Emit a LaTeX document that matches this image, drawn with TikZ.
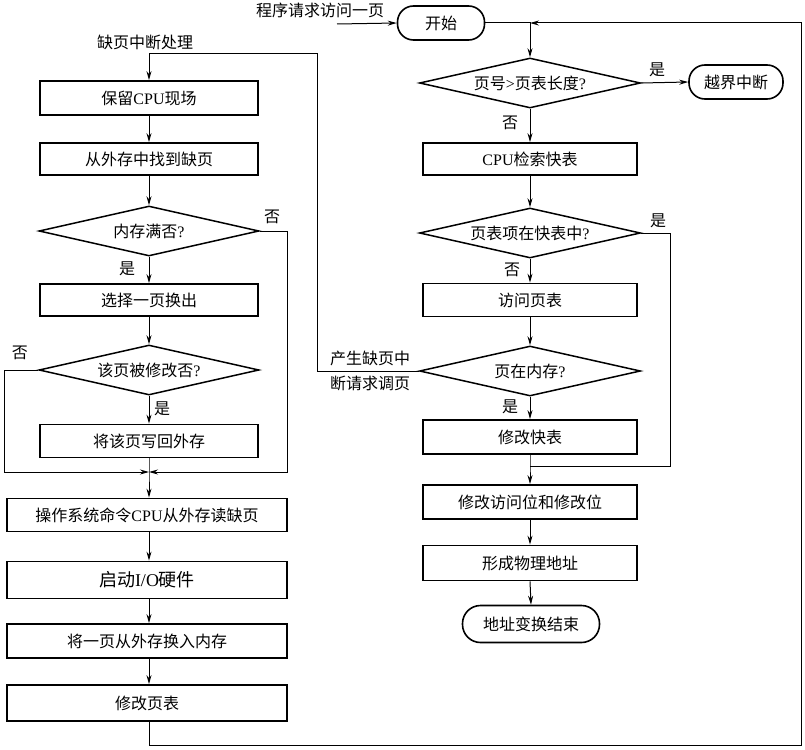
\documentclass[tikz,border=0pt]{standalone}
\usepackage{fontspec}
\setmainfont{Liberation Serif}
\newfontfamily\cjk{Noto Sans CJK SC}
\newfontfamily\latf{Liberation Serif}
\usetikzlibrary{shapes.geometric,arrows.meta}
\tikzset{
  txt/.style={font=\cjk\fontsize{16}{18}\selectfont, inner sep=0pt},
  stepbox/.style={draw, line width=1.8pt, minimum height=33pt, inner sep=0pt, txt},
  rbox/.style={draw, line width=1.6pt, minimum height=34pt, inner sep=0pt, rounded corners=16pt, txt},
  dia/.style={draw, shape=diamond, aspect=4.4, line width=1.5pt, minimum width=221pt, minimum height=50pt, inner sep=0pt, txt},
  conn/.style={line width=1pt},
  arr/.style={line width=1pt, -{Stealth[length=9pt,width=5pt,inset=3pt]}},
}
\begin{document}
\begin{tikzpicture}[x=1pt,y=-1pt]
\useasboundingbox (0,0) rectangle (805,749);
% ---------- right column ----------
\node[txt] (req) at (320,10) {程序请求访问一页};
\coordinate (reqs) at (337,24);
\node[rbox, minimum width=87pt] (start) at (441,23) {开始};
\coordinate (j0) at (530,23);
\node[dia] (d1) at (530,83) {页号{\latf >}页表长度{\latf ?}};
\node[rbox, minimum width=94pt] (out) at (736,82) {越界中断};
\node[txt] (y1) at (657,70) {是};
\node[txt] (n1) at (510,123) {否};
\node[stepbox, minimum width=214pt, minimum height=32pt] (cpu) at (530,159) {{\latf CPU}检索快表};
\node[dia] (d2) at (530,233) {页表项在快表中{\latf ?}};
\node[txt] (y2) at (658,221) {是};
\node[txt] (n2) at (512,270) {否};
\node[stepbox, minimum width=214pt] (vt) at (530,300) {访问页表};
\node[dia] (d3) at (530,371) {页在内存{\latf ?}};
\node[txt] (y3) at (510,407) {是};
\node[stepbox, minimum width=214pt, minimum height=34pt] (kb) at (530,437) {修改快表};
\coordinate (j2) at (530,466);
\coordinate (r2a) at (670,233);
\coordinate (r2b) at (670,466);
\node[stepbox, minimum width=214pt, minimum height=34pt] (mod) at (530,502) {修改访问位和修改位};
\node[stepbox, minimum width=214pt, minimum height=35pt] (phys) at (530,563) {形成物理地址};
\node[rbox, minimum width=137pt, minimum height=37pt, rounded corners=18pt] (fin) at (531,624) {地址变换结束};
% ---------- left column ----------
\node[txt] (lab) at (145,42) {缺页中断处理};
\node[stepbox, minimum width=218pt, minimum height=34pt] (b1) at (149,98) {保留{\latf CPU}现场};
\node[stepbox, minimum width=218pt, minimum height=32pt] (b2) at (149,159) {从外存中找到缺页};
\node[dia, minimum width=220pt] (d4) at (149,231) {内存满否{\latf ?}};
\node[txt] (n4) at (272,217) {否};
\node[txt] (y4) at (127,269) {是};
\node[stepbox, minimum width=218pt, minimum height=32pt] (b3) at (149,300) {选择一页换出};
\node[dia, minimum width=220pt] (d5) at (149,370) {该页被修改否{\latf ?}};
\node[txt] (n5) at (20,353) {否};
\node[txt] (y5) at (162,409) {是};
\node[stepbox, minimum width=218pt] (b4) at (149,441) {将该页写回外存};
\coordinate (jl) at (149,472);
\coordinate (r4a) at (287,231);
\coordinate (r4b) at (287,472);
\coordinate (l5a) at (4,370);
\coordinate (l5b) at (4,472);
\node[stepbox, minimum width=280pt, minimum height=33pt] (b5) at (147,515) {操作系统命令{\latf CPU}从外存读缺页};
\node[stepbox, minimum width=280pt, minimum height=37pt, font=\cjk\fontsize{18}{20}\selectfont] (b6) at (147,580) {启动{\latf I/O}硬件};
\node[stepbox, minimum width=280pt, minimum height=34pt] (b7) at (147,641) {将一页从外存换入内存};
\node[stepbox, minimum width=280pt, minimum height=36pt] (b8) at (147,703) {修改页表};
% loop corners
\coordinate (lb) at (149,745);
\coordinate (rb) at (801,745);
\coordinate (rt) at (801,23);
\coordinate (pa) at (317,371);
\coordinate (pb) at (317,54);
\coordinate (pc) at (149,54);
\node[txt] (pl1) at (370,358) {产生缺页中};
\node[txt] (pl2) at (370,383) {断请求调页};
% ---------- connectors ----------
\draw[arr] (reqs) -- (start.west);
\draw[arr] (start.east) -- (j0) -- (d1.north);
\draw[arr] (d1.east) -- (out.west);
\draw[arr] (d1.south) -- (cpu.north);
\draw[arr] (cpu.south) -- (d2.north);
\draw[arr] (d2.south) -- (vt.north);
\draw[arr] (vt.south) -- (d3.north);
\draw[arr] (d3.south) -- (kb.north);
\draw[arr] (kb.south) -- (j2) -- (mod.north);
\draw[conn] (d2.east) -- (r2a) -- (r2b) -- (j2);
\draw[arr] (mod.south) -- (phys.north);
\draw[arr] (phys.south) -- (fin.north);
\draw[arr] (d3.west) -- (pa) -- (pb) -- (pc) -- (b1.north);
\draw[arr] (b1.south) -- (b2.north);
\draw[arr] (b2.south) -- (d4.north);
\draw[arr] (d4.south) -- (b3.north);
\draw[arr] (b3.south) -- (d5.north);
\draw[arr] (d5.south) -- (b4.north);
\draw[arr] (b4.south) -- (jl) -- (jl |- b5.north);
\draw[arr] (d4.east) -- (r4a) -- (r4b) -- (jl);
\draw[arr] (d5.west) -- (l5a) -- (l5b) -- (jl);
\draw[arr] (jl |- b5.south) -- (jl |- b6.north);
\draw[arr] (jl |- b6.south) -- (jl |- b7.north);
\draw[arr] (jl |- b7.south) -- (jl |- b8.north);
\draw[arr] (jl |- b8.south) -- (lb) -- (rb) -- (rt) -- (j0);
\end{tikzpicture}
\end{document}
